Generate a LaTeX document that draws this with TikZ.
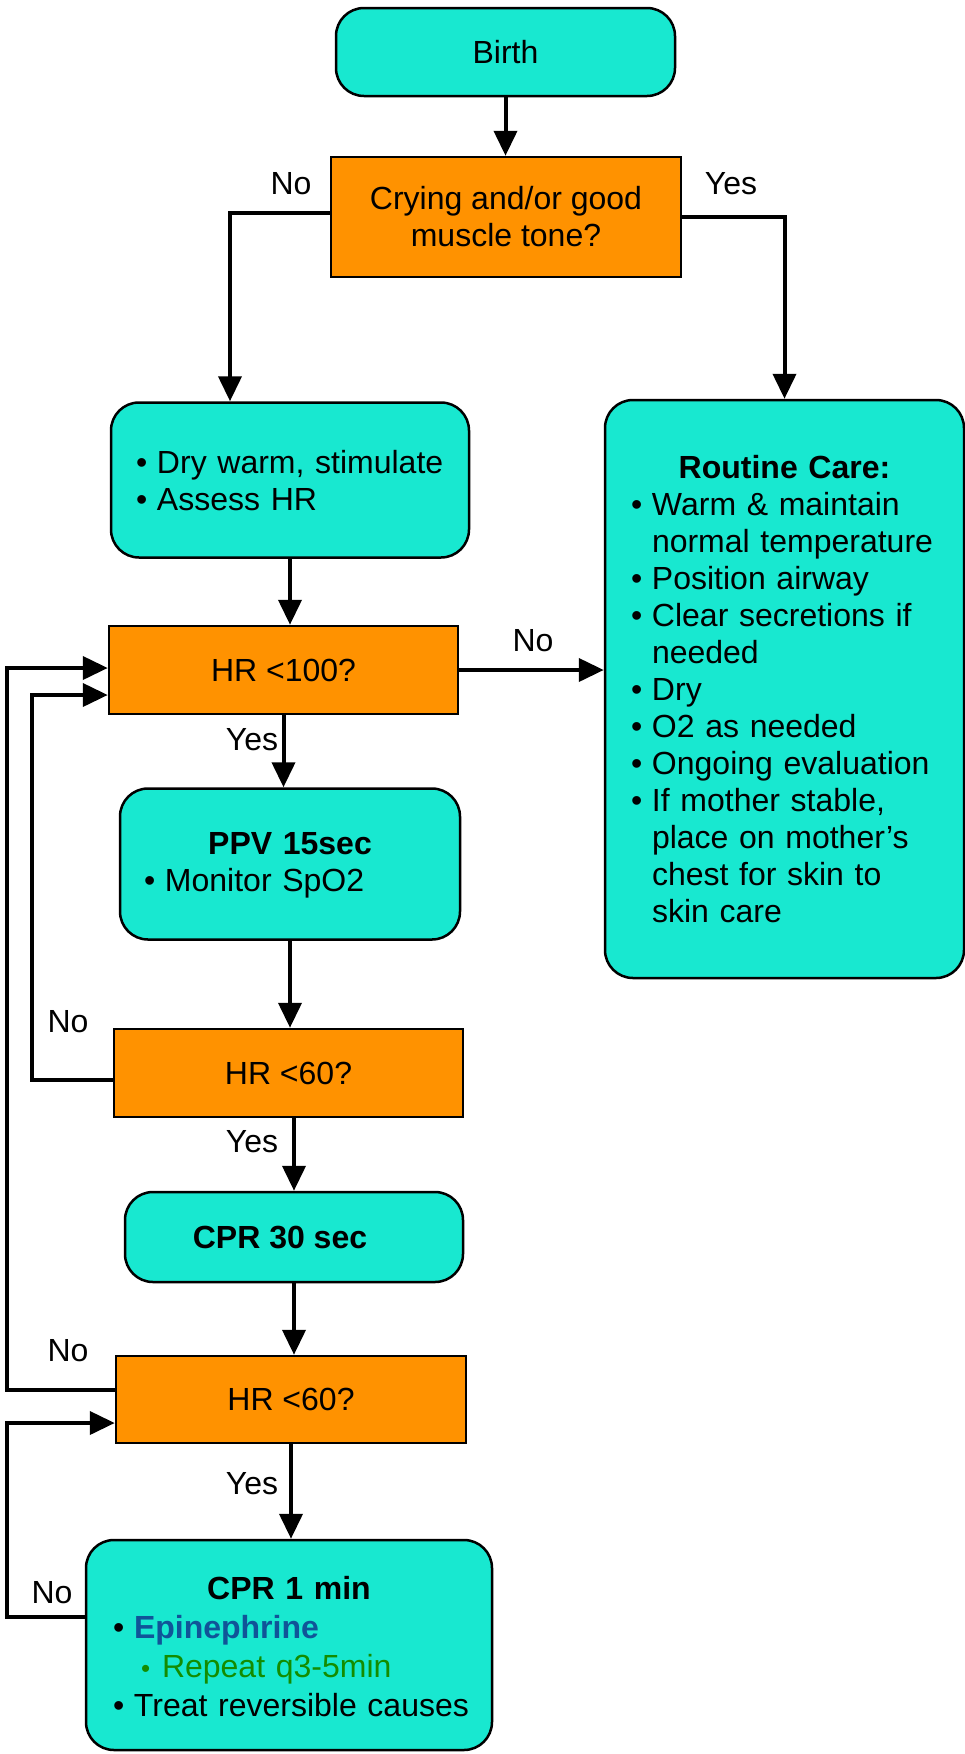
\documentclass[tikz,border=0pt]{standalone}
\usepackage{fontspec}
\setmainfont{Liberation Sans}
\usetikzlibrary{arrows.meta}
\definecolor{careTeal}{RGB}{24,232,208}
\definecolor{askOrange}{RGB}{255,146,0}
\definecolor{drugBlue}{RGB}{16,84,152}
\definecolor{doseGreen}{RGB}{20,140,0}

% bullet line with hanging indent; optional lead space before the bullet
\newcommand{\bul}[2][0pt]{\par\hangindent=\dimexpr#1+21pt\relax\hangafter=1\noindent\hspace*{#1}\makebox[21pt][l]{\textbullet}#2}
\newcommand{\boxtitle}[1]{\par\noindent{\centering\bfseries #1\par}}
% close the last item inside the node and lift the text a little
\newcommand{\boxend}{\par\kern13pt}

\begin{document}
\begin{tikzpicture}[x=1pt,y=-1pt,
    every node/.style={font=\fontsize{32pt}{37pt}\selectfont},
    stepBox/.style={draw, line width=2.5pt, fill=careTeal, rounded corners=28pt},
    listBox/.style={stepBox, inner xsep=10pt, align=left},
    askBox/.style={draw, line width=2.5pt, fill=askOrange, align=center, minimum height=88pt},
    link/.style={line width=4pt, -{Triangle[length=25pt,width=23pt]}}]
\useasboundingbox (0,0) rectangle (965,1754);

% main column
\node[stepBox, minimum width=339pt, minimum height=88pt] (birth) at (505.5,52) {Birth};
\node[askBox, minimum width=350pt, minimum height=120pt] (toneQ) at (506,217) {Crying and/or good\\muscle tone?};
\node[listBox, text width=338pt, minimum height=155pt] (dryBox) at (290,480)
    {\bul[15pt]{Dry warm, stimulate}\bul[15pt]{Assess HR}\boxend};
\node[listBox, text width=339pt, minimum height=578pt] (routineBox) at (784.5,689)
    {\boxtitle{Routine Care:}%
     \bul[16pt]{Warm \& maintain\newline normal temperature}%
     \bul[16pt]{Position airway}%
     \bul[16pt]{Clear secretions if\newline needed}%
     \bul[16pt]{Dry}%
     \bul[16pt]{O2 as needed}%
     \bul[16pt]{Ongoing evaluation}%
     \bul[16pt]{If mother stable,\newline place on mother’s\newline chest for skin to\newline skin care}\boxend};
\node[askBox, minimum width=349pt] (hrHundredQ) at (283.5,670) {HR <100?};
\node[listBox, text width=320pt, minimum height=151pt] (ppvBox) at (290,864)
    {\boxtitle{PPV 15sec}\bul[14pt]{Monitor SpO2}\boxend};
\node[askBox, minimum width=349pt] (hrSixtyQa) at (288.5,1073) {HR <60?};
\node[stepBox, minimum width=338pt, minimum height=90pt] (cprThirty) at (294,1237) {\bfseries CPR 30 sec\hspace*{28pt}};
\node[askBox, minimum width=350pt, minimum height=87pt] (hrSixtyQb) at (291,1399.5) {HR <60?};
\node[listBox, text width=386pt, minimum height=210pt, font=\fontsize{32pt}{39pt}\selectfont] (cprMinute) at (289,1645)
    {\boxtitle{CPR 1 min}%
     \bul[17pt]{\textcolor{drugBlue}{\bfseries Epinephrine}}%
     \par\noindent\hspace*{45pt}\makebox[21pt][l]{\textcolor{doseGreen}{\fontsize{26pt}{39pt}\selectfont\textbullet}}\textcolor{doseGreen}{Repeat q3-5min}%
     \bul[17pt]{Treat reversible causes}\boxend};

% branch labels
\node (noTone) at (291,184) {No};
\node (yesTone) at (731,184) {Yes};
\node (noHundred) at (533,641) {No};
\node (yesHundred) at (252,740) {Yes};
\node (noSixtyA) at (68,1022) {No};
\node (yesSixtyA) at (252,1142) {Yes};
\node (noSixtyB) at (68,1351) {No};
\node (yesSixtyB) at (252,1484) {Yes};
\node (noMinute) at (52,1593) {No};

% connectors
\coordinate (noBend) at (230,213);
\coordinate (innerRail) at (32,695);
\coordinate (outerRail) at (7,668);
\coordinate (lowRail) at (7,1423);

\draw[link] (birth.south) -- (birth.south |- toneQ.north);
\draw[link] (toneQ.west |- noBend) -- (noBend) -- (noBend |- dryBox.north);
\draw[link] (toneQ.east) -| (routineBox.north);
\draw[link] (dryBox.south) -- (dryBox.south |- hrHundredQ.north);
\draw[link] (hrHundredQ.east) -- (hrHundredQ.east -| routineBox.west);
\draw[link] (hrHundredQ.south) -- (hrHundredQ.south |- ppvBox.north);
\draw[link] (ppvBox.south) -- (ppvBox.south |- hrSixtyQa.north);
\draw[link] (cprThirty.north |- hrSixtyQa.south) -- (cprThirty.north);
\draw[link] (cprThirty.south) -- (cprThirty.south |- hrSixtyQb.north);
\draw[link] (hrSixtyQb.south) -- (hrSixtyQb.south |- cprMinute.north);

% loops back up the left side
\draw[link] ([yshift=-7pt]hrSixtyQa.west) -| (innerRail) -- (innerRail -| hrHundredQ.west);
\draw[link] ([yshift=9.5pt]hrSixtyQb.west) -| (outerRail) -- (outerRail -| hrHundredQ.west);
\draw[link] ([yshift=28pt]cprMinute.west) -| (lowRail) -- (lowRail -| hrSixtyQb.west);
\end{tikzpicture}
\end{document}
